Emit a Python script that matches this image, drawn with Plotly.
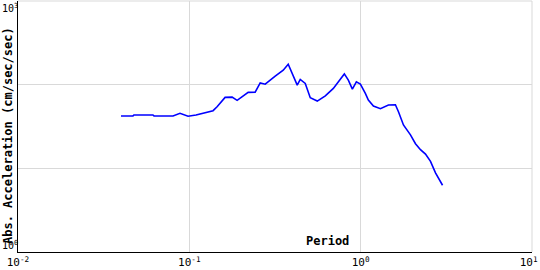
import plotly.graph_objects as go

period = [0.0399, 0.0469, 0.0475, 0.0613, 0.0622, 0.0803, 0.0882, 0.0983, 0.1094, 0.1235,
          0.1376, 0.1452, 0.1532, 0.1617, 0.1777, 0.1901, 0.2205, 0.2422, 0.2592, 0.2772,
          0.3171, 0.3532, 0.3777, 0.4263, 0.4440, 0.4749, 0.5079, 0.5581, 0.6218, 0.6927,
          0.7607, 0.8029, 0.8473, 0.8944, 0.9439, 0.996, 1.065, 1.109, 1.187, 1.304,
          1.452, 1.595, 1.662, 1.777, 1.953, 2.089, 2.234, 2.390, 2.556, 2.734, 3.005]
accel = [42.3, 42.3, 43.4, 43.4, 42.3, 42.3, 45.5, 41.9, 43.4, 46.7,
         48.9, 54.5, 62.0, 70.5, 71.0, 64.9, 80.8, 81.4, 105.1, 101.4,
         126.2, 148.7, 175.2, 98.6, 115.3, 103.3, 69.7, 63.7, 73.6, 90.1,
         116.2, 134.4, 113.1, 88.4, 108.0, 101.4, 78.6, 65.4, 55.5, 51.6,
         57.1, 57.6, 47.5, 33.0, 25.1, 19.7, 16.7, 14.8, 12.1, 8.82, 6.28]

x_title = "Period"
y_title = "Abs. Acceleration (cm/sec/sec)"
x_tick_vals = [0.01, 0.1, 1, 10]
x_tick_text = ["10<sup>-2</sup>", "10<sup>-1</sup>", "10<sup>0</sup>", "10<sup>1</sup>&nbsp;"]
y_tick_labels = ["10<sup>3</sup>", "10<sup>0</sup>"]

mono = "DejaVu Sans Mono"
grid = "#d9d9d9"

fig = go.Figure()
fig.add_trace(go.Scatter(x=period, y=accel, mode="lines",
                         line=dict(color="#0000ff", width=1.6), showlegend=False))

fig.update_layout(
    width=540, height=270,
    margin=dict(l=18, r=8, t=1, b=18, autoexpand=False),
    paper_bgcolor="white", plot_bgcolor="white",
    font=dict(family=mono, size=11, color="black"),
    xaxis=dict(type="log", range=[-2, 1], tickmode="array",
               tickvals=x_tick_vals, ticktext=x_tick_text,
               ticklabeloverflow="allow", automargin=False,
               showgrid=True, gridcolor=grid, gridwidth=1,
               showline=True, linecolor="black", linewidth=1,
               ticks="", tickfont=dict(family=mono, size=11), zeroline=False),
    yaxis=dict(type="log", range=[0, 3], dtick=1, showticklabels=False,
               automargin=False,
               showgrid=True, gridcolor=grid, gridwidth=1,
               showline=True, linecolor="black", linewidth=1,
               ticks="", zeroline=False),
)

# top and right frame edges in grid colour
fig.add_shape(type="line", xref="paper", yref="paper", x0=0, x1=1, y0=1, y1=1,
              line=dict(color=grid, width=1))
fig.add_shape(type="line", xref="paper", yref="paper", x0=1, x1=1, y0=0, y1=1,
              line=dict(color=grid, width=1))

# y tick labels at the axis ends
fig.add_annotation(text=y_tick_labels[0], xref="paper", x=0, xanchor="right", xshift=1,
                   yref="y", y=3, yanchor="top", showarrow=False, borderpad=0,
                   font=dict(family=mono, size=10))
fig.add_annotation(text=y_tick_labels[1], xref="paper", x=0, xanchor="right", xshift=1,
                   yref="y", y=0, yanchor="bottom", showarrow=False, borderpad=0,
                   font=dict(family=mono, size=10))

fig.add_annotation(text="<b>" + y_title + "</b>", textangle=-90,
                   xref="paper", x=0, xanchor="center", xshift=-10,
                   yref="paper", y=0.462, yanchor="middle", showarrow=False,
                   font=dict(family=mono, size=12))
fig.add_annotation(text="<b>" + x_title + "</b>",
                   xref="paper", x=0.648, xanchor="right",
                   yref="paper", y=0.042, yanchor="middle", showarrow=False,
                   font=dict(family=mono, size=12))

fig.write_html("out.html")
